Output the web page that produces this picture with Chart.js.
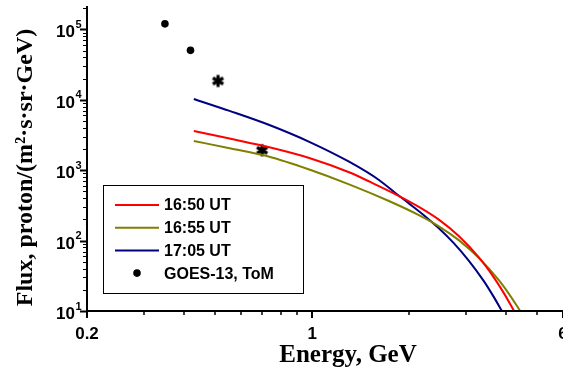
<!DOCTYPE html>
<html>
<head>
    <meta charset="UTF-8">
    <title>Proton flux spectra</title>
    <script src="https://cdn.jsdelivr.net/npm/chart.js@4"></script>
    <style>
        body { margin: 0; background: #ffffff; }
        #wrap { width: 563px; height: 368px; }
    </style>
</head>
<body>
    <div id="wrap"><canvas id="fluxChart" width="563" height="368"></canvas></div>
    <script>
        // spectra (energy in GeV, flux)
        const energy1650 = [0.429, 0.554, 0.736, 0.979, 1.301, 1.519, 1.815, 2.142, 2.471, 2.849, 3.284, 3.654, 3.924, 4.230];
        const flux1650 = [3604, 2811, 2115, 1490, 934, 675, 455, 302, 198.8, 116.2, 58.1, 30.3, 18.25, 10];
        const energy1655 = [0.429, 0.554, 0.736, 0.979, 1.301, 1.730, 2.142, 2.471, 2.849, 3.284, 3.788, 4.067, 4.420];
        const flux1655 = [2599, 2053, 1555, 1023, 630, 365, 230, 159.7, 101.6, 57.2, 27.6, 17.8, 10];
        const energy1705 = [0.429, 0.554, 0.736, 0.979, 1.301, 1.611, 1.815, 1.995, 2.220, 2.471, 2.749, 3.059, 3.404, 3.654, 3.878];
        const flux1705 = [10260, 6956, 4385, 2532, 1320, 726, 470, 337.6, 229.5, 149.5, 91.9, 52.0, 26.8, 16.0, 10];
        const goesEnergy = [0.349, 0.419];
        const goesFlux = [120000, 50400];
        const tomEnergy = [0.51, 0.699];
        const tomFlux = [18500, 1920];

        const xTicks = [0.2, 0.3, 0.4, 0.5, 0.6, 0.7, 0.8, 0.9, 1, 2, 3, 4, 5, 6];
        const xLabels = [0.2, 1, 6];
        const yDecades = [1, 2, 3, 4, 5];

        function pts(xs, ys) {
            return xs.map((x, i) => ({x: x, y: ys[i]}));
        }

        const yTicks = [];
        for (let d = 1; d <= 5; d++) {
            for (let m = 1; m <= 9; m++) yTicks.push(m * Math.pow(10, d));
        }

        // six-armed asterisk marker
        function asterisk(size) {
            const c = document.createElement('canvas');
            c.width = size; c.height = size;
            const g = c.getContext('2d');
            const r = size / 2 - 1.5;
            g.translate(size / 2, size / 2);
            g.strokeStyle = '#000';
            g.lineWidth = 3.2;
            for (let k = 0; k < 3; k++) {
                const ang = Math.PI / 2 + k * Math.PI / 3;
                g.beginPath();
                g.moveTo(Math.cos(ang) * r, Math.sin(ang) * r);
                g.lineTo(-Math.cos(ang) * r, -Math.sin(ang) * r);
                g.stroke();
            }
            return c;
        }

        const axisDecor = {
            id: 'axisDecor',
            afterDraw(chart) {
                const ctx = chart.ctx;
                const xs = chart.scales.x, ys = chart.scales.y;
                const a = chart.chartArea;
                ctx.save();
                ctx.strokeStyle = '#000';
                ctx.lineWidth = 2;
                ctx.beginPath();
                ctx.moveTo(a.left, a.top);
                ctx.lineTo(a.left, a.bottom);
                ctx.lineTo(a.right, a.bottom);
                ctx.stroke();
                xTicks.forEach(v => {
                    const px = Math.round(xs.getPixelForValue(v));
                    const major = xLabels.includes(v);
                    ctx.lineWidth = major ? 2 : 1.5;
                    ctx.beginPath();
                    ctx.moveTo(px, a.bottom);
                    ctx.lineTo(px, a.bottom + (major ? 7 : 4));
                    ctx.stroke();
                });
                yTicks.forEach(v => {
                    if (v > ys.max) return;
                    const py = Math.round(ys.getPixelForValue(v)) + 0.5;
                    const major = Math.abs(Math.log10(v) % 1) < 1e-9;
                    ctx.lineWidth = major ? 2 : 1;
                    ctx.beginPath();
                    ctx.moveTo(a.left, py);
                    ctx.lineTo(a.left - (major ? 7 : 4), py);
                    ctx.stroke();
                });
                ctx.fillStyle = '#000';
                ctx.font = 'bold 17px "Liberation Sans", Arial, sans-serif';
                ctx.textAlign = 'center';
                ctx.textBaseline = 'alphabetic';
                xLabels.forEach(v => {
                    ctx.fillText(String(v), xs.getPixelForValue(v), 339);
                });
                yDecades.forEach(d => {
                    const py = ys.getPixelForValue(Math.pow(10, d));
                    ctx.font = 'bold 17px "Liberation Sans", Arial, sans-serif';
                    ctx.textAlign = 'right';
                    ctx.fillText('10', 75, py + 8);
                    ctx.font = 'bold 11px "Liberation Sans", Arial, sans-serif';
                    ctx.textAlign = 'left';
                    ctx.fillText(String(d), 75.5, py - 1.5);
                });
                ctx.font = 'bold 25px "Liberation Serif", "Times New Roman", serif';
                ctx.textAlign = 'center';
                ctx.fillText('Energy, GeV', 348, 362);
                ctx.save();
                ctx.translate(32, 167.5);
                ctx.rotate(-Math.PI / 2);
                ctx.font = 'bold 24px "Liberation Serif", "Times New Roman", serif';
                ctx.fillText('Flux, proton/(m\u00B2\u00B7s\u00B7sr\u00B7GeV)', 0, 0);
                ctx.restore();
                ctx.restore();
            }
        };

        const boxLegend = {
            id: 'boxLegend',
            afterDraw(chart) {
                const ctx = chart.ctx;
                ctx.save();
                ctx.fillStyle = '#fff';
                ctx.fillRect(103.5, 185.5, 200, 108);
                ctx.strokeStyle = '#000';
                ctx.lineWidth = 1;
                ctx.strokeRect(103.5, 185.5, 200, 108);
                const rows = [205, 227.7, 250.4, 273.1];
                let i = 0;
                chart.data.datasets.forEach(ds => {
                    if (!ds.label) return;
                    const y = rows[i++];
                    if (ds.showLine) {
                        ctx.strokeStyle = ds.borderColor;
                        ctx.lineWidth = 2;
                        ctx.beginPath();
                        ctx.moveTo(115, y);
                        ctx.lineTo(159, y);
                        ctx.stroke();
                    } else {
                        ctx.fillStyle = '#000';
                        ctx.beginPath();
                        ctx.arc(137, y, 3.8, 0, Math.PI * 2);
                        ctx.fill();
                    }
                    ctx.fillStyle = '#000';
                    ctx.font = 'bold 16px "Liberation Sans", Arial, sans-serif';
                    ctx.textAlign = 'left';
                    ctx.textBaseline = 'middle';
                    ctx.fillText(ds.label, 164, y + 1);
                });
                ctx.restore();
            }
        };

        function lineSet(label, color, xs, ys) {
            return {
                label: label,
                data: pts(xs, ys),
                showLine: true,
                borderColor: color,
                borderWidth: 2,
                pointRadius: 0,
                cubicInterpolationMode: 'monotone',
                fill: false
            };
        }

        new Chart(document.getElementById('fluxChart'), {
            type: 'scatter',
            data: {
                datasets: [
                    lineSet('16:50 UT', '#ff0000', energy1650, flux1650),
                    lineSet('16:55 UT', '#808000', energy1655, flux1655),
                    lineSet('17:05 UT', '#000080', energy1705, flux1705),
                    {
                        label: 'GOES-13, ToM',
                        data: pts(goesEnergy, goesFlux),
                        showLine: false,
                        pointStyle: 'circle',
                        pointRadius: 3.8,
                        backgroundColor: '#000',
                        borderColor: '#000',
                        borderWidth: 0
                    },
                    {
                        label: '',
                        data: pts(tomEnergy, tomFlux),
                        showLine: false,
                        pointStyle: asterisk(15),
                        pointRadius: 7
                    }
                ]
            },
            options: {
                responsive: false,
                animation: false,
                layout: { autoPadding: false, padding: { top: 6, right: 0, left: 0, bottom: 0 } },
                plugins: {
                    legend: { display: false },
                    tooltip: { enabled: false }
                },
                scales: {
                    x: {
                        type: 'logarithmic',
                        min: 0.2,
                        max: 6,
                        grid: { display: false },
                        border: { display: false },
                        ticks: { display: false },
                        afterFit: s => { s.height = 57; }
                    },
                    y: {
                        type: 'logarithmic',
                        min: 10,
                        max: 2.15e5,
                        grid: { display: false },
                        border: { display: false },
                        ticks: { display: false },
                        afterFit: s => { s.width = 87; }
                    }
                }
            },
            plugins: [axisDecor, boxLegend]
        });
    </script>
</body>
</html>
